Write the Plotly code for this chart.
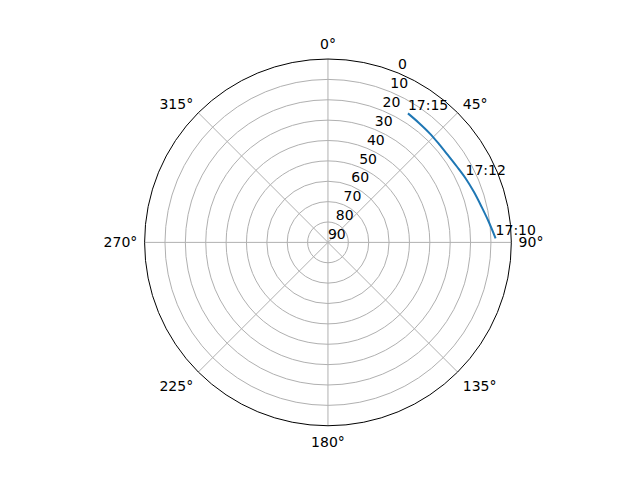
import plotly.graph_objects as go

# satellite pass (azimuth deg, elevation deg)
times = ["17:10", "17:10:30", "17:11", "17:11:30", "17:12", "17:12:30",
         "17:13", "17:13:30", "17:14", "17:14:30", "17:15"]
azimuth = [88.6, 82.6, 77.0, 71.0, 65.0, 59.5, 54.0, 48.5, 43.0, 37.3, 31.8]
elevation = [7.7, 10.5, 12.6, 14.2, 15.5, 16.6, 17.2, 17.2, 16.8, 16.3, 15.5]

label_times = ["17:10", "17:12", "17:15"]

r_ticks = [0, 10, 20, 30, 40, 50, 60, 70, 80, 90]
label_angle = 22.5

lab_az = [azimuth[times.index(t)] for t in label_times]
lab_el = [elevation[times.index(t)] for t in label_times]

font = dict(family="DejaVu Sans", size=14, color="black")

fig = go.Figure()
fig.add_trace(go.Scatterpolar(
    r=elevation, theta=azimuth, mode="lines",
    line=dict(color="#1f77b4", width=2, shape="spline"),
    hoverinfo="skip",
))
# time labels, anchored like matplotlib annotate (bottom-left at point)
fig.add_trace(go.Scatterpolar(
    r=lab_el, theta=lab_az, mode="text", text=label_times,
    textposition="top right", textfont=font, hoverinfo="skip",
))
# radial tick labels along 22.5 deg
fig.add_trace(go.Scatterpolar(
    r=r_ticks, theta=[label_angle] * len(r_ticks), mode="text",
    text=[str(v) for v in r_ticks], textposition="top right",
    textfont=font, hoverinfo="skip", cliponaxis=False,
))

fig.update_layout(
    width=640, height=480,
    margin=dict(l=0, r=0, t=0, b=0),
    paper_bgcolor="white",
    showlegend=False,
    polar=dict(
        domain=dict(x=[0.2134, 0.7865], y=[0.1297, 0.8937]),
        bgcolor="white",
        angularaxis=dict(
            rotation=90, direction="clockwise",
            tickmode="array", tickvals=[0, 45, 90, 135, 180, 225, 270, 315],
            ticktext=["0°", "45°", "90°", "135°", "180°", "225°", "270°", "315°"],
            ticks="outside", ticklen=4, tickcolor="rgba(0,0,0,0)",
            showline=True, linecolor="black", linewidth=1,
            gridcolor="#b0b0b0", gridwidth=1, tickfont=font,
        ),
        radialaxis=dict(
            range=[90, 0], tickvals=r_ticks, showticklabels=False,
            ticks="", showline=False, gridcolor="#b0b0b0", gridwidth=1,
        ),
    ),
)

fig.write_html("out.html")
